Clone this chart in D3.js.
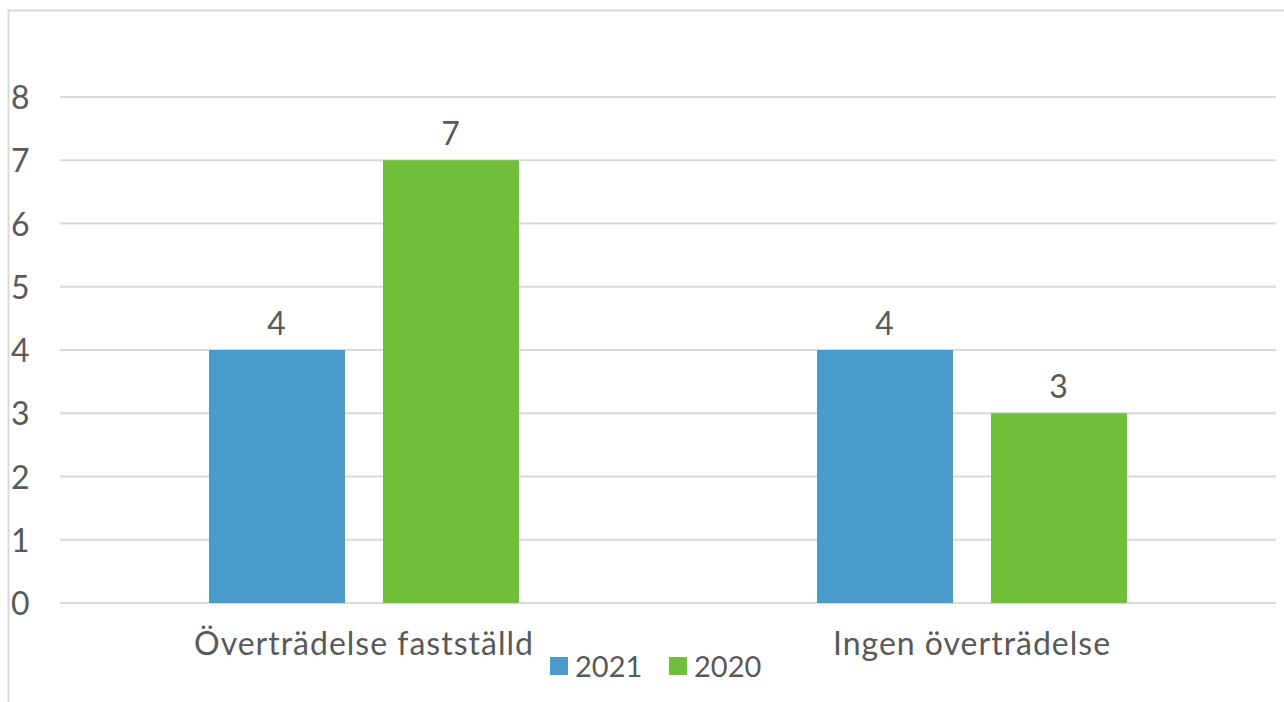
<!DOCTYPE html>
<html><head><meta charset="utf-8">
<script src="https://cdn.jsdelivr.net/npm/d3@7/dist/d3.min.js"></script>
<style>body{margin:0;background:#fff}svg{display:block}text{font-family:"Century Gothic","URW Gothic","Lato","DejaVu Sans",sans-serif;fill:#595959;letter-spacing:1px}</style>
</head><body><svg id="c" width="1284" height="702"></svg>
<script>
const categories = ["Överträdelse fastställd", "Ingen överträdelse"];
const seriesNames = ["2021", "2020"];
const values2021 = [4, 4];
const values2020 = [7, 3];
const yTicks = [0,1,2,3,4,5,6,7,8];
const colors = ["#4a9bc9", "#70bf3a"];

const svg = d3.select("#c");
const W = 1284, H = 702;
const m = {left:60, right:8};
const FS = "32px";
// outer border
svg.append("path").attr("d", `M8.5,${H} V10.5 H${W}`).attr("fill","none").attr("stroke","#d9d9d9").attr("stroke-width",2);

const x = d3.scaleBand().domain(categories).range([m.left, W - m.right]);
const y = d3.scaleLinear().domain([0,8]).range([603, 97]);

// gridlines
svg.append("g").selectAll("line").data(yTicks).join("line")
  .attr("x1", m.left).attr("x2", W - m.right)
  .attr("y1", d => y(d)).attr("y2", d => y(d))
  .attr("stroke", "#d9d9d9").attr("stroke-width", 2);

// y labels
const yAxis = d3.axisLeft(y).tickValues(yTicks).tickSize(0).tickFormat(d3.format("d"));
const ga = svg.append("g").attr("transform", "translate(11,0)").call(yAxis);
ga.select(".domain").remove();
ga.selectAll("text").attr("text-anchor","start").attr("x",0).attr("dy","0.36em").style("font-size",FS).attr("fill","#595959");

const series = [values2021, values2020];
const barW = 136, gap = 38;
series.forEach((vals, si) => {
  const g = svg.append("g");
  vals.forEach((v, ci) => {
    const cx = x(categories[ci]) + x.bandwidth()/2;
    const bx = si === 0 ? cx - gap/2 - barW : cx + gap/2;
    g.append("rect").attr("x", bx).attr("width", barW)
      .attr("y", y(v)).attr("height", y(0) - y(v)).attr("fill", colors[si]);
    g.append("text").attr("x", bx + barW/2).attr("y", y(v) - 15)
      .attr("text-anchor","middle").style("font-size",FS).text(v);
  });
});

// x labels
const xAxis = d3.axisBottom(x).tickSize(0);
const gx = svg.append("g").attr("transform", "translate(0,603)").call(xAxis);
gx.select(".domain").remove();
gx.selectAll("text").attr("dy", 0).attr("y", 52).style("font-size",FS).attr("fill","#595959");

// legend
const leg = svg.append("g");
const legX = [550, 669];
seriesNames.forEach((s, i) => {
  leg.append("rect").attr("x", legX[i]).attr("y", 657).attr("width", 18).attr("height", 18).attr("fill", colors[i]);
  leg.append("text").attr("x", legX[i] + 25).attr("y", 677).style("font-size","29px").style("letter-spacing","0px").text(s);
});
</script></body></html>
